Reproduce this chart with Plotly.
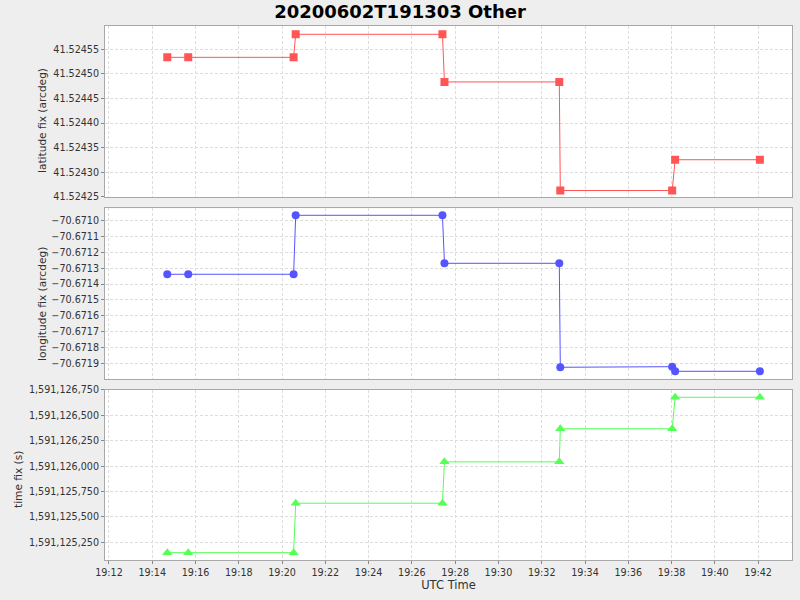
import plotly.graph_objects as go

utc_times = [
    "2020-06-02 19:14:41.7", "2020-06-02 19:15:39.8", "2020-06-02 19:20:32.0",
    "2020-06-02 19:20:37.8", "2020-06-02 19:27:24.7", "2020-06-02 19:27:30.3",
    "2020-06-02 19:32:48.7", "2020-06-02 19:32:51.5", "2020-06-02 19:38:01.7",
    "2020-06-02 19:38:10.0", "2020-06-02 19:42:05.0",
]
latitude = [
    41.5245337, 41.5245337, 41.5245337, 41.5245805, 41.5245805, 41.5244837,
    41.5244837, 41.5242630, 41.5242630, 41.5243256, 41.5243256,
]
longitude = [
    -70.6713382, -70.6713382, -70.6713382, -70.6709659, -70.6709659, -70.6712688,
    -70.6712688, -70.6719252, -70.6719215, -70.6719505, -70.6719505,
]
time_fix = [
    1591125148, 1591125148, 1591125148, 1591125635, 1591125635, 1591126042,
    1591126042, 1591126368, 1591126368, 1591126678, 1591126678,
]
axis_titles = ["latitude fix (arcdeg)", "longitude fix (arcdeg)", "time fix (s)"]

FONT = "DejaVu Sans"
GRID = "#DDDDDD"
BORDER = "#A8A8A8"
DASH = "3px,2px"
TICKFONT = dict(family=FONT, size=9.6, color="#333333")
TITLEFONT = dict(family=FONT, size=10.6, color="#333333")

fig = go.Figure()
fig.add_trace(go.Scatter(x=utc_times, y=latitude, mode="lines+markers",
                         line=dict(color="#FF5555", width=1),
                         marker=dict(symbol="square", size=8, color="#FF5555"),
                         xaxis="x", yaxis="y", showlegend=False))
fig.add_trace(go.Scatter(x=utc_times, y=longitude, mode="lines+markers",
                         line=dict(color="#5555FF", width=1),
                         marker=dict(symbol="circle", size=8, color="#5555FF"),
                         xaxis="x2", yaxis="y2", showlegend=False))
fig.add_trace(go.Scatter(x=utc_times, y=time_fix, mode="lines+markers",
                         line=dict(color="#55FF55", width=1),
                         marker=dict(symbol="triangle-up", size=9, color="#55FF55"),
                         xaxis="x3", yaxis="y3", showlegend=False))

xrange = ["2020-06-02 19:11:49", "2020-06-02 19:43:34"]
xcommon = dict(type="date", range=xrange, dtick=120000, tick0="2020-06-02 19:12:00",
               tickformat="%H:%M", showgrid=True, gridcolor=GRID, griddash=DASH,
               gridwidth=1, showline=True, linecolor=BORDER, mirror=True,
               zeroline=False, automargin=False, tickfont=TICKFONT)
ycommon = dict(showgrid=True, gridcolor=GRID, griddash=DASH, gridwidth=1,
               showline=True, linecolor=BORDER, mirror=True, zeroline=False,
               ticks="outside", ticklen=3, tickcolor="#888888", automargin=False,
               tickfont=TICKFONT)

# y-axis titles as annotations (pixel centres converted to paper coords)
L, R, T, B, W, H = 105, 8, 26, 40, 800, 600
pw, ph = W - L - R, H - T - B
title_px = [(42, 120), (42, 304), (18, 480)]
annotations = [
    dict(text=txt, textangle=-90, showarrow=False, xref="paper", yref="paper",
         x=(px - L) / pw, y=(H - B - py) / ph, xanchor="center", yanchor="middle",
         font=TITLEFONT)
    for txt, (px, py) in zip(axis_titles, title_px)
]

fig.update_layout(
    width=W, height=H,
    paper_bgcolor="#EEEEEE", plot_bgcolor="#FFFFFF",
    margin=dict(l=L, r=R, t=T, b=B),
    title=dict(text="<b>20200602T191303 Other</b>", x=0.5, xanchor="center",
               y=0.98, yanchor="middle",
               font=dict(family=FONT, size=18, color="#000000")),
    annotations=annotations,
    xaxis=dict(xcommon, anchor="y", showticklabels=False, ticks=""),
    xaxis2=dict(xcommon, anchor="y2", matches="x", showticklabels=False, ticks=""),
    xaxis3=dict(xcommon, anchor="y3", matches="x", ticks="outside", ticklen=3,
                tickcolor="#888888",
                title=dict(text="UTC Time", standoff=0,
                           font=dict(family=FONT, size=11.5, color="#333333"))),
    yaxis=dict(ycommon, domain=[0.679, 1.0], range=[41.524249, 41.5245974],
               dtick=0.00005, tick0=41.52425, tickformat=".5f"),
    yaxis2=dict(ycommon, domain=[0.339, 0.6586], range=[-70.671999, -70.6709218],
                dtick=0.0001, tick0=-70.6710, tickformat=".4f"),
    yaxis3=dict(ycommon, domain=[0.0, 0.319], range=[1591125076, 1591126753],
                dtick=250, tick0=1591125000, tickformat=",d"),
)

fig.write_html("out.html", config={"displayModeBar": False},
               post_script="document.body.style.margin='0';"
                           "document.body.style.background='#EEEEEE';")
